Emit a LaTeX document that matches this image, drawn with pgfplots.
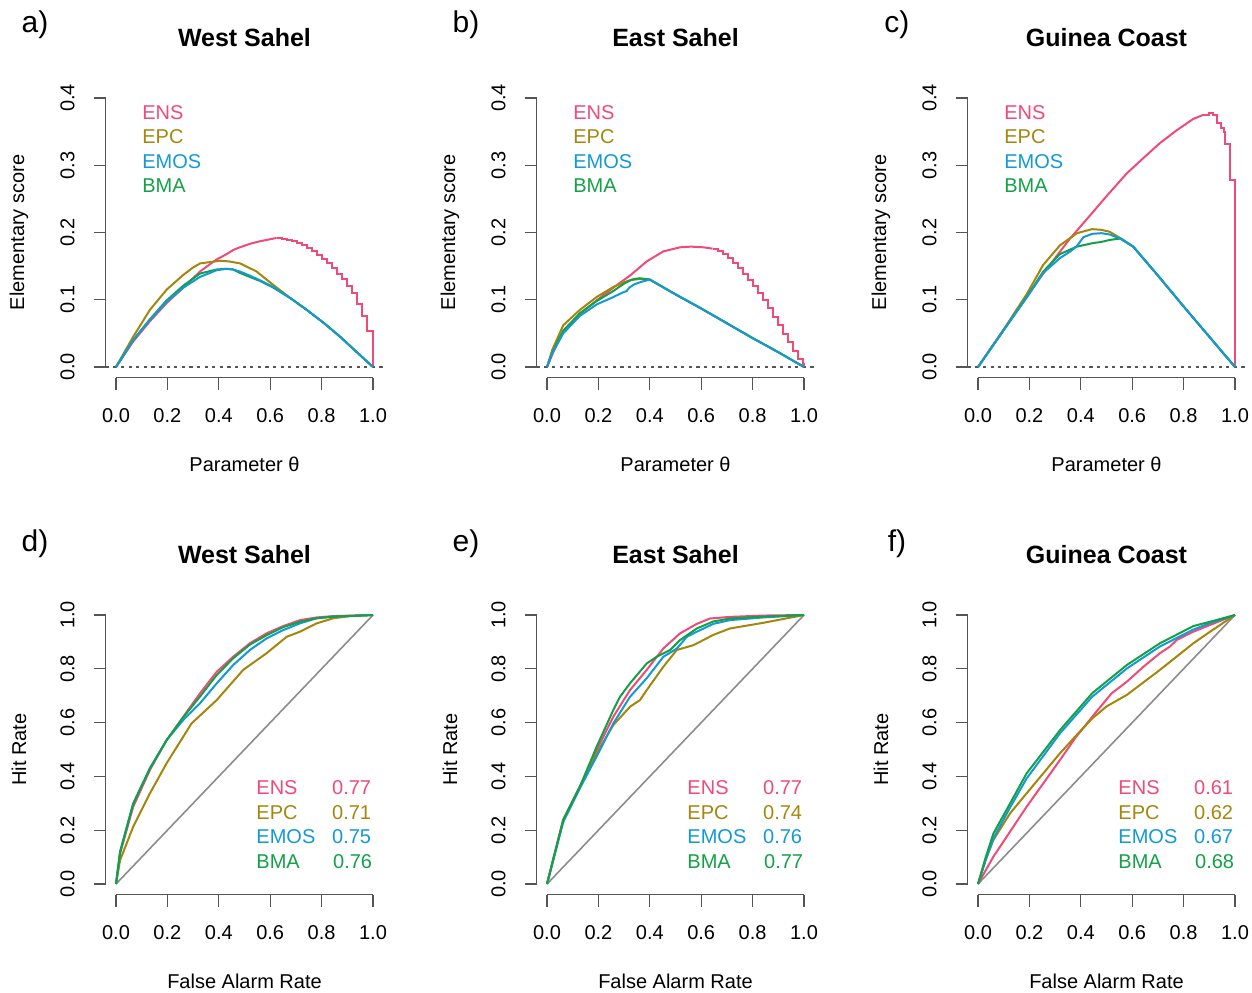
\documentclass[border=0pt]{standalone}
\usepackage{fontspec}
\setmainfont{Liberation Sans}
\usepackage{pgfplots}
\pgfplotsset{compat=1.18}
\definecolor{ens}{HTML}{F04B78}
\definecolor{epc}{HTML}{A5860D}
\definecolor{emos}{HTML}{1399D6}
\definecolor{bma}{HTML}{14A046}
\definecolor{axgray}{HTML}{555555}
\definecolor{diag}{HTML}{8C8C8C}
\newcommand\lab{\fontsize{10}{12}\selectfont}
\newcommand\ttl{\fontsize{12.5}{15}\selectfont\bfseries}
\newcommand\pan{\fontsize{15}{18}\selectfont}
\pgfplotsset{
  rbase/.style={scale only axis, width=138.78pt, height=145.26pt, clip=false,
    xmin=-0.04, xmax=1.04, anchor=south west,
    axis x line*=bottom, axis y line*=left, axis line style={draw=none},
    tick align=outside, major tick length=6pt,
    tick style={axgray, line width=0.6pt},
    xtick={0,0.2,0.4,0.6,0.8,1},
    /pgf/number format/fixed, /pgf/number format/fixed zerofill,
    /pgf/number format/precision=1, /pgf/number format/assume math mode=true,
    tick label style={font=\lab, black},
    yticklabel style={rotate=90, anchor=south},
    xticklabel shift=6pt, yticklabel shift=6pt,
    every axis plot/.append style={line width=1pt}},
  toprow/.style={rbase, ymin=-0.016, ymax=0.416, ytick={0,0.1,0.2,0.3,0.4}},
  botrow/.style={rbase, ymin=-0.04, ymax=1.04, ytick={0,0.2,0.4,0.6,0.8,1}},
}
\newcommand{\topdeco}[2]{%
  \draw[axgray, line width=0.6pt] (axis cs:0,-0.016) -- (axis cs:1,-0.016);
  \draw[axgray, line width=0.6pt] (axis cs:-0.04,0) -- (axis cs:-0.04,0.4);
  \draw[axgray, line width=0.6pt, dash pattern=on 1.6pt off 2.2pt] (axis cs:-0.04,0) -- (axis cs:1.04,0);
  \node[font=\ttl] at ([yshift=25pt]rel axis cs:0.5,1) {#1};
  \node[font=\pan] at ([xshift=-35.4pt,yshift=31.5pt]rel axis cs:0,1) {#2};
  \node[font=\lab] at ([yshift=-43.5pt]rel axis cs:0.5,0) {Parameter θ};
  \node[font=\lab, rotate=90] at ([xshift=-43.4pt]rel axis cs:0,0.5) {Elementary score};
  \node[font=\lab, text=ens, anchor=west, inner sep=0pt] at (axis cs:0.101,0.379) {ENS};
  \node[font=\lab, text=epc, anchor=west, inner sep=0pt] at (axis cs:0.101,0.342) {EPC};
  \node[font=\lab, text=emos, anchor=west, inner sep=0pt] at (axis cs:0.101,0.306) {EMOS};
  \node[font=\lab, text=bma, anchor=west, inner sep=0pt] at (axis cs:0.101,0.269) {BMA};
}
\newcommand{\botdeco}[6]{%
  \draw[axgray, line width=0.6pt] (axis cs:0,-0.04) -- (axis cs:1,-0.04);
  \draw[axgray, line width=0.6pt] (axis cs:-0.04,0) -- (axis cs:-0.04,1);
  \node[font=\ttl] at ([yshift=25pt]rel axis cs:0.5,1) {#1};
  \node[font=\pan] at ([xshift=-35.4pt,yshift=30.5pt]rel axis cs:0,1) {#2};
  \node[font=\lab] at ([yshift=-43.5pt]rel axis cs:0.5,0) {False Alarm Rate};
  \node[font=\lab, rotate=90] at ([xshift=-43.4pt]rel axis cs:0,0.5) {Hit Rate};
  \node[font=\lab, text=ens, anchor=west, inner sep=0pt] at (axis cs:0.545,0.357) {ENS};
  \node[font=\lab, text=epc, anchor=west, inner sep=0pt] at (axis cs:0.545,0.264) {EPC};
  \node[font=\lab, text=emos, anchor=west, inner sep=0pt] at (axis cs:0.545,0.175) {EMOS};
  \node[font=\lab, text=bma, anchor=west, inner sep=0pt] at (axis cs:0.545,0.082) {BMA};
  \node[font=\lab, text=ens, anchor=east, inner sep=0pt] at (axis cs:0.994,0.357) {#3};
  \node[font=\lab, text=epc, anchor=east, inner sep=0pt] at (axis cs:0.994,0.264) {#4};
  \node[font=\lab, text=emos, anchor=east, inner sep=0pt] at (axis cs:0.994,0.175) {#5};
  \node[font=\lab, text=bma, anchor=east, inner sep=0pt] at (axis cs:0.998,0.082) {#6};
  \addplot[diag, line width=0.8pt] coordinates {(0,0) (1,1)};
}
\begin{document}
\begin{tikzpicture}
\path[use as bounding box] (0,0) rectangle (626pt,496pt);
% ---------------- a) West Sahel
\begin{axis}[toprow, at={(52.86pt,307.12pt)}]
\topdeco{West Sahel}{a)}
\addplot[ens] coordinates {(0,0) (0.067,0.038) (0.132,0.068) (0.197,0.095) (0.262,0.118) (0.30,0.132) (0.327,0.142) (0.366,0.153) (0.392,0.160) (0.431,0.168) (0.456,0.174) (0.482,0.178) (0.52,0.183) (0.56,0.187) (0.60,0.190) (0.625,0.192)};
\addplot[ens, const plot] coordinates {(0.625,0.192) (0.644,0.190) (0.664,0.189) (0.683,0.187) (0.703,0.184) (0.722,0.181) (0.742,0.177) (0.761,0.173) (0.781,0.167) (0.800,0.160) (0.820,0.154) (0.839,0.147) (0.859,0.139) (0.878,0.131) (0.898,0.120) (0.917,0.110) (0.937,0.093) (0.956,0.076) (0.976,0.053) (1.0,0)};
\addplot[epc] coordinates {(0,0) (0.067,0.045) (0.132,0.085) (0.197,0.115) (0.262,0.137) (0.30,0.148) (0.327,0.154) (0.366,0.156) (0.405,0.158) (0.44,0.157) (0.483,0.154) (0.547,0.142) (0.612,0.122) (0.68,0.102) (0.742,0.085) (0.81,0.065) (0.872,0.045) (0.94,0.021) (1,0)};
\addplot[bma] coordinates {(0,0) (0.067,0.040) (0.132,0.071) (0.197,0.099) (0.262,0.121) (0.327,0.139) (0.392,0.145) (0.43,0.146) (0.456,0.145) (0.482,0.140) (0.52,0.134) (0.56,0.128) (0.612,0.118) (0.68,0.102) (0.742,0.085) (0.81,0.065) (0.872,0.045) (0.94,0.021) (1,0)};
\addplot[emos] coordinates {(0,0) (0.067,0.040) (0.132,0.070) (0.197,0.097) (0.262,0.118) (0.327,0.134) (0.392,0.144) (0.43,0.146) (0.456,0.145) (0.482,0.142) (0.52,0.136) (0.56,0.129) (0.612,0.119) (0.68,0.102) (0.742,0.085) (0.81,0.065) (0.872,0.045) (0.94,0.021) (1,0)};
\end{axis}
% ---------------- b) East Sahel
\begin{axis}[toprow, at={(268.36pt,307.12pt)}]
\topdeco{East Sahel}{b)}
\addplot[ens] coordinates {(0,0) (0.03,0.027) (0.063,0.052) (0.128,0.079) (0.193,0.099) (0.258,0.118) (0.323,0.136) (0.388,0.157) (0.453,0.172) (0.518,0.178) (0.56,0.179) (0.608,0.178) (0.644,0.176)};
\addplot[ens, const plot] coordinates {(0.644,0.176) (0.664,0.172) (0.683,0.168) (0.703,0.162) (0.722,0.155) (0.742,0.147) (0.761,0.139) (0.781,0.130) (0.800,0.121) (0.820,0.110) (0.839,0.099) (0.859,0.087) (0.878,0.075) (0.898,0.062) (0.917,0.049) (0.937,0.037) (0.956,0.024) (0.976,0.012) (0.995,0.004) (1.0,0)};
\addplot[epc] coordinates {(0,0) (0.02,0.025) (0.063,0.062) (0.128,0.085) (0.193,0.104) (0.258,0.119) (0.30,0.126) (0.323,0.129) (0.36,0.131) (0.40,0.130) (0.45,0.119) (0.5,0.108) (0.6,0.087) (0.7,0.065) (0.8,0.043) (0.9,0.022) (1,0)};
\addplot[bma] coordinates {(0,0) (0.02,0.021) (0.063,0.054) (0.128,0.080) (0.193,0.098) (0.258,0.113) (0.30,0.124) (0.33,0.130) (0.36,0.132) (0.40,0.130) (0.45,0.119) (0.5,0.108) (0.6,0.087) (0.7,0.065) (0.8,0.043) (0.9,0.022) (1,0)};
\addplot[emos] coordinates {(0,0) (0.02,0.020) (0.063,0.050) (0.128,0.076) (0.193,0.093) (0.258,0.104) (0.29,0.110) (0.31,0.113) (0.32,0.118) (0.34,0.123) (0.37,0.127) (0.40,0.130) (0.45,0.119) (0.5,0.108) (0.6,0.087) (0.7,0.065) (0.8,0.043) (0.9,0.022) (1,0)};
\end{axis}
% ---------------- c) Guinea Coast
\begin{axis}[toprow, at={(483.86pt,307.12pt)}]
\topdeco{Guinea Coast}{c)}
\addplot[ens] coordinates {(0,0) (0.1,0.055) (0.189,0.104) (0.25,0.137) (0.30,0.162) (0.358,0.191) (0.444,0.229) (0.50,0.254) (0.579,0.288) (0.65,0.313) (0.708,0.333) (0.773,0.352) (0.838,0.369) (0.877,0.375)};
\addplot[ens, const plot] coordinates {(0.877,0.375) (0.897,0.377) (0.916,0.374) (0.93,0.363) (0.945,0.355) (0.958,0.350) (0.962,0.331) (0.979,0.278) (1.0,0)};
\addplot[epc] coordinates {(0,0) (0.1,0.056) (0.189,0.108) (0.254,0.152) (0.319,0.181) (0.385,0.199) (0.444,0.205) (0.48,0.204) (0.513,0.201) (0.565,0.189) (0.604,0.179) (0.7,0.136) (0.8,0.090) (0.9,0.045) (1,0)};
\addplot[bma] coordinates {(0,0) (0.1,0.055) (0.189,0.104) (0.254,0.142) (0.319,0.168) (0.385,0.179) (0.444,0.184) (0.48,0.186) (0.513,0.189) (0.553,0.191) (0.604,0.179) (0.7,0.136) (0.8,0.090) (0.9,0.045) (1,0)};
\addplot[emos] coordinates {(0,0) (0.1,0.055) (0.189,0.103) (0.254,0.140) (0.319,0.162) (0.36,0.172) (0.385,0.180) (0.41,0.193) (0.444,0.198) (0.48,0.199) (0.513,0.197) (0.553,0.191) (0.604,0.179) (0.7,0.136) (0.8,0.090) (0.9,0.045) (1,0)};
\end{axis}
% ---------------- d) West Sahel ROC
\begin{axis}[botrow, at={(52.86pt,48.62pt)}]
\botdeco{West Sahel}{d)}{0.77}{0.71}{0.75}{0.76}
\addplot[ens] coordinates {(0,0) (0.016,0.114) (0.067,0.287) (0.132,0.424) (0.197,0.535) (0.262,0.622) (0.327,0.709) (0.392,0.789) (0.456,0.845) (0.521,0.895) (0.586,0.932) (0.651,0.959) (0.716,0.981) (0.781,0.991) (0.846,0.996) (1,1)};
\addplot[epc] coordinates {(0,0) (0.016,0.089) (0.067,0.213) (0.132,0.337) (0.197,0.449) (0.294,0.597) (0.392,0.684) (0.495,0.796) (0.586,0.858) (0.664,0.919) (0.716,0.938) (0.781,0.969) (0.846,0.988) (0.911,0.996) (1,1)};
\addplot[emos] coordinates {(0,0) (0.016,0.12) (0.067,0.299) (0.132,0.430) (0.197,0.535) (0.262,0.610) (0.327,0.672) (0.392,0.746) (0.456,0.814) (0.521,0.870) (0.586,0.913) (0.651,0.944) (0.716,0.969) (0.781,0.988) (0.846,0.994) (1,1)};
\addplot[bma] coordinates {(0,0) (0.016,0.12) (0.067,0.299) (0.132,0.430) (0.197,0.535) (0.262,0.620) (0.327,0.697) (0.392,0.777) (0.456,0.839) (0.521,0.890) (0.586,0.925) (0.651,0.955) (0.716,0.975) (0.781,0.988) (0.846,0.994) (1,1)};
\end{axis}
% ---------------- e) East Sahel ROC
\begin{axis}[botrow, at={(268.36pt,48.62pt)}]
\botdeco{East Sahel}{e)}{0.77}{0.74}{0.76}{0.77}
\addplot[ens] coordinates {(0,0) (0.063,0.238) (0.128,0.362) (0.193,0.498) (0.258,0.622) (0.323,0.721) (0.388,0.796) (0.453,0.876) (0.518,0.932) (0.583,0.967) (0.634,0.987) (0.712,0.993) (0.842,0.998) (1,1)};
\addplot[epc] coordinates {(0,0) (0.063,0.238) (0.128,0.362) (0.193,0.486) (0.258,0.591) (0.323,0.659) (0.362,0.684) (0.388,0.721) (0.453,0.808) (0.505,0.870) (0.57,0.888) (0.647,0.926) (0.712,0.950) (0.842,0.971) (1,1)};
\addplot[emos] coordinates {(0,0) (0.063,0.23) (0.128,0.356) (0.193,0.474) (0.258,0.597) (0.323,0.696) (0.388,0.765) (0.453,0.845) (0.479,0.860) (0.505,0.875) (0.544,0.919) (0.583,0.938) (0.647,0.967) (0.712,0.981) (0.842,0.991) (1,1)};
\addplot[bma] coordinates {(0,0) (0.063,0.238) (0.128,0.362) (0.193,0.510) (0.258,0.647) (0.284,0.696) (0.323,0.746) (0.388,0.820) (0.427,0.845) (0.479,0.870) (0.518,0.907) (0.583,0.950) (0.647,0.976) (0.712,0.987) (0.842,0.994) (1,1)};
\end{axis}
% ---------------- f) Guinea Coast ROC
\begin{axis}[botrow, at={(483.86pt,48.62pt)}]
\botdeco{Guinea Coast}{f)}{0.61}{0.62}{0.67}{0.68}
\addplot[ens] coordinates {(0,0) (0.06,0.102) (0.189,0.287) (0.319,0.461) (0.38,0.545) (0.46,0.640) (0.520,0.709) (0.579,0.752) (0.644,0.808) (0.708,0.858) (0.747,0.883) (0.773,0.907) (0.838,0.938) (0.903,0.963) (1,1)};
\addplot[epc] coordinates {(0,0) (0.03,0.09) (0.06,0.164) (0.125,0.263) (0.189,0.337) (0.319,0.486) (0.38,0.55) (0.444,0.615) (0.50,0.66) (0.579,0.703) (0.708,0.796) (0.838,0.895) (0.903,0.938) (1,1)};
\addplot[emos] coordinates {(0,0) (0.03,0.09) (0.06,0.170) (0.125,0.285) (0.189,0.392) (0.319,0.560) (0.444,0.696) (0.579,0.801) (0.708,0.883) (0.838,0.946) (0.903,0.970) (1,1)};
\addplot[bma] coordinates {(0,0) (0.03,0.10) (0.06,0.188) (0.125,0.300) (0.189,0.411) (0.319,0.572) (0.444,0.709) (0.579,0.814) (0.708,0.895) (0.838,0.959) (0.903,0.975) (1,1)};
\end{axis}
\end{tikzpicture}
\end{document}
